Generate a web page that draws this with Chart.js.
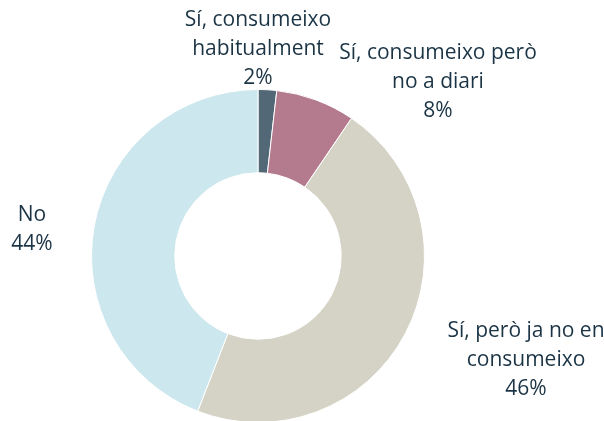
<!DOCTYPE html>
<html>
<head>
<meta charset="utf-8">
<script src="https://cdn.jsdelivr.net/npm/chart.js@4"></script>
<style>
  html, body { margin: 0; padding: 0; background: #fff; overflow: hidden; }
  #wrap { width: 604px; height: 430px; position: relative; }
</style>
</head>
<body>
<div id="wrap"><canvas id="chart"></canvas></div>
<script>
// Data (angles of the slices), clockwise from the top.
const categories = [
  "Sí, consumeixo habitualment",
  "Sí, consumeixo però no a diari",
  "Sí, però ja no en consumeixo",
  "No"
];
const values = [1.8, 7.7, 46.4, 44.1];
const shownPercents = ["2%", "8%", "46%", "44%"];
const sliceColors = ["#536876", "#b47b8e", "#d5d3c5", "#cce8ee"];

// Each label split into lines, plus where its block sits relative to the centre.
const labelLines = [
  ["Sí, consumeixo", "habitualment"],
  ["Sí, consumeixo però", "no a diari"],
  ["Sí, però ja no en", "consumeixo"],
  ["No"]
];
const labelOffsets = [[0, -207], [180, -174], [268, 104], [-226, -26]];

const textColor = "#1b3445";
const lineHeight = 29;

// Draw the outside labels (name + percentage) for each slice.
const outsideLabels = {
  id: "outsideLabels",
  afterDraw(chart) {
    const ctx = chart.ctx;
    const arc = chart.getDatasetMeta(0).data[0];
    ctx.save();
    ctx.fillStyle = textColor;
    ctx.font = "21px 'Open Sans', sans-serif";
    ctx.textAlign = "center";
    ctx.textBaseline = "middle";
    categories.forEach((c, i) => {
      const lines = labelLines[i].concat([shownPercents[i]]);
      const cx = arc.x + labelOffsets[i][0];
      const cy = arc.y + labelOffsets[i][1];
      const top = cy - (lines.length - 1) * lineHeight / 2;
      lines.forEach((l, k) => ctx.fillText(l, cx, top + k * lineHeight));
    });
    ctx.restore();
  }
};

new Chart(document.getElementById("chart"), {
  type: "doughnut",
  data: {
    labels: categories,
    datasets: [{
      data: values,
      backgroundColor: sliceColors,
      borderColor: "#ffffff",
      borderWidth: 1
    }]
  },
  options: {
    responsive: true,
    maintainAspectRatio: false,
    animation: false,
    cutout: "50%",
    layout: { padding: { top: 89, bottom: 7, left: 91, right: 179 } },
    plugins: { legend: { display: false }, tooltip: { enabled: false } }
  },
  plugins: [outsideLabels]
});
</script>
</body>
</html>
